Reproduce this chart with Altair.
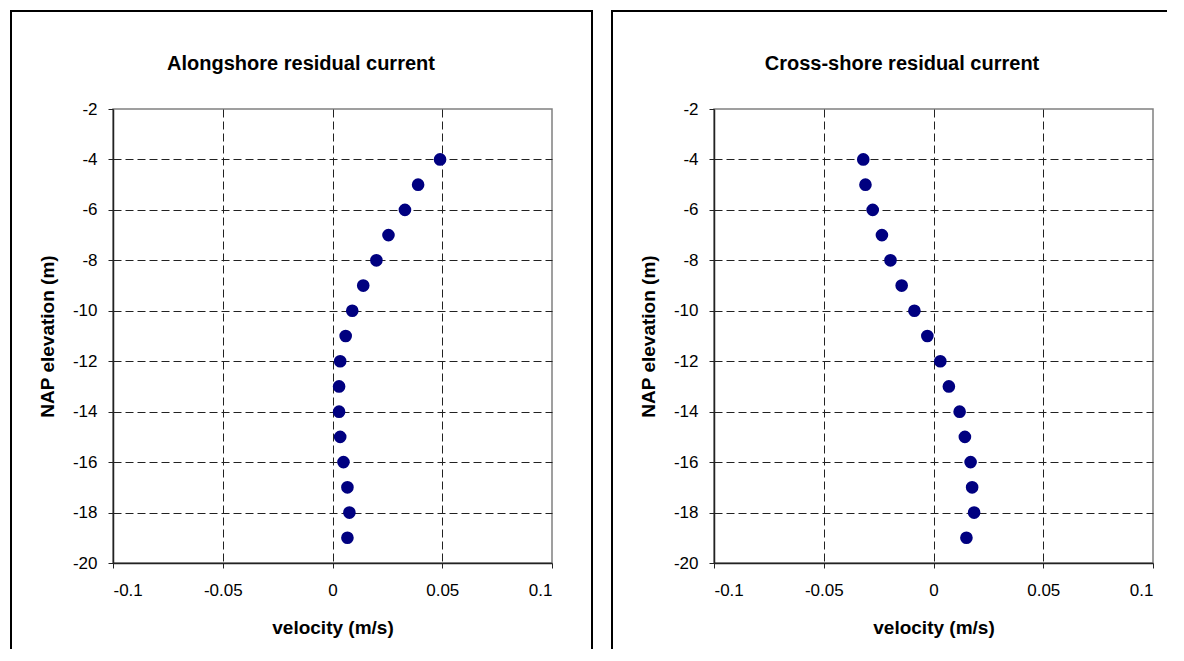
import altair as alt
import pandas as pd

depth = [-4, -5, -6, -7, -8, -9, -10, -11, -12, -13, -14, -15, -16, -17, -18, -19]
along = [0.049, 0.039, 0.033, 0.0255, 0.020, 0.014, 0.009, 0.006, 0.0035, 0.003,
         0.003, 0.0035, 0.005, 0.0068, 0.0077, 0.0068]
cross = [-0.032, -0.031, -0.0277, -0.0235, -0.0196, -0.0145, -0.0087, -0.0028, 0.0031,
         0.0070, 0.0119, 0.0143, 0.0169, 0.0176, 0.0185, 0.0150]

titles = ["Alongshore residual current", "Cross-shore residual current"]
x_ticks = [-0.1, -0.05, 0, 0.05, 0.1]
y_ticks = [-20, -18, -16, -14, -12, -10, -8, -6, -4, -2]

FONT = "Liberation Sans"
W, H = 439, 454
BOTTOM = 540
TOP = -98
LEFT = -102


def panel(vel, title, right_edge, draw_right):
    df = pd.DataFrame({"velocity": vel, "elevation": depth})
    x_axis = alt.Axis(
        values=x_ticks,
        labelExpr="datum.value + ''",
        title="velocity (m/s)",
        titleY=64,
        titleBaseline="middle",
        grid=True,
        gridOpacity={"condition": {"test": "datum.value <= -0.1 || datum.value >= 0.1", "value": 0}, "value": 1},
        labelPadding=14,
    )
    y_axis = alt.Axis(
        values=y_ticks,
        labelExpr="datum.value + ''",
        title="NAP elevation (m)",
        titleX=-66,
        titleY=H / 2,
        titleAngle=270,
        titleAlign="center",
        titleBaseline="middle",
        grid=True,
        gridOpacity={"condition": {"test": "datum.value <= -20 || datum.value >= -2", "value": 0}, "value": 1},
        labelPadding=11,
    )
    pts = alt.Chart(df).mark_circle(size=160, color="#000080", opacity=1).encode(
        x=alt.X("velocity:Q", scale=alt.Scale(domain=[-0.1, 0.1], nice=False, zero=False), axis=x_axis),
        y=alt.Y("elevation:Q", scale=alt.Scale(domain=[-20, -2], nice=False, zero=False), axis=y_axis),
    )
    one = pd.DataFrame({"t": [title]})
    ttl = alt.Chart(one).mark_text(
        font=FONT, fontSize=20, fontWeight="bold", color="black", align="center", baseline="middle"
    ).encode(x=alt.value(188), y=alt.value(-45), text="t:N")
    top = alt.Chart(one).mark_rule(stroke="black", strokeWidth=2).encode(
        x=alt.value(LEFT - 1), x2=alt.value(right_edge + 1), y=alt.value(TOP)
    )
    lft = alt.Chart(one).mark_rule(stroke="black", strokeWidth=2).encode(
        x=alt.value(LEFT), y=alt.value(TOP - 1), y2=alt.value(BOTTOM)
    )
    layers = [top, lft]
    if draw_right:
        rgt = alt.Chart(one).mark_rule(stroke="black", strokeWidth=2).encode(
            x=alt.value(right_edge), y=alt.value(TOP - 1), y2=alt.value(BOTTOM)
        )
        layers.append(rgt)
    layers += [pts, ttl]
    return alt.layer(*layers).properties(width=W, height=H)


left = panel(along, titles[0], 479, True)
right = panel(cross, titles[1], 452, False)

chart = alt.hconcat(left, right, spacing=162, bounds="flush").properties(
    padding=0, background="white"
).configure_view(
    stroke="#808080", strokeWidth=1.5
).configure_axis(
    domainColor="#222", domainWidth=1.5, tickColor="#222", tickSize=5, tickWidth=1,
    labelFont=FONT, labelFontSize=17, labelColor="black",
    titleFont=FONT, titleFontSize=19, titleFontWeight="bold", titleColor="black",
    gridColor="#222", gridDash=[8, 4], gridWidth=1,
)

chart.save("out.html", embed_options={"renderer": "svg", "actions": False})
